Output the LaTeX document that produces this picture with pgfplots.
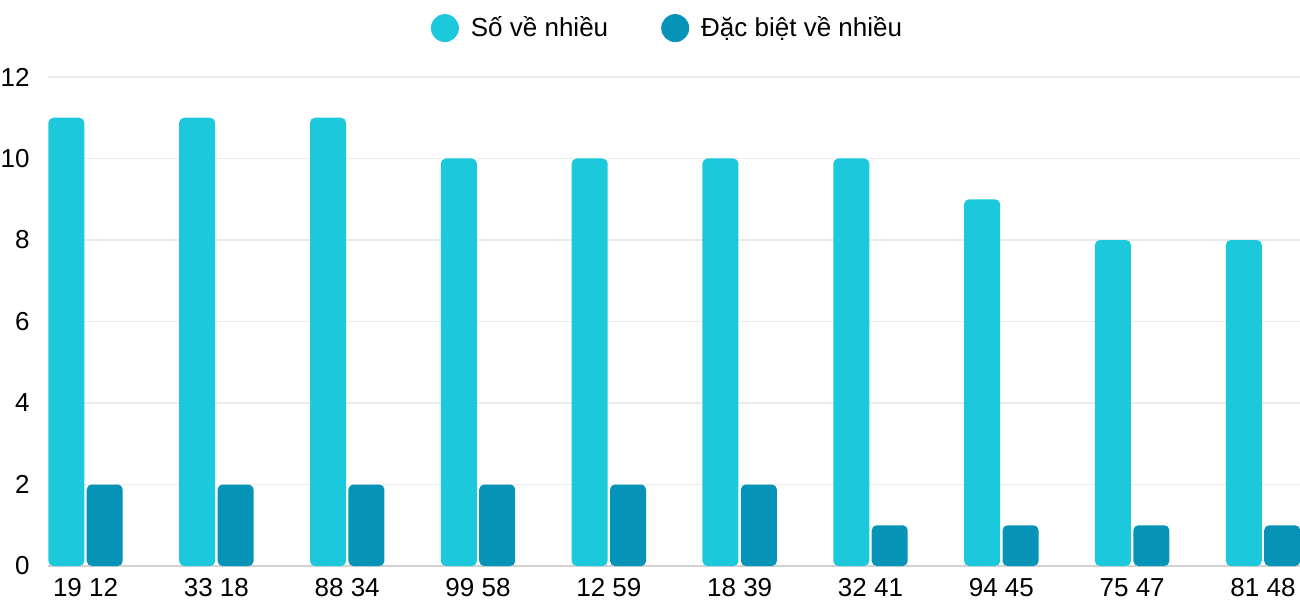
\documentclass[border=0pt]{standalone}
\usepackage{pgfplots}
\pgfplotsset{compat=1.18}
\usepackage{fontspec}
\setmainfont{Liberation Sans}
\definecolor{cLight}{RGB}{27,200,220}
\definecolor{cDark}{RGB}{5,147,183}
\definecolor{cGrid}{RGB}{235,235,235}
\definecolor{cAxis}{RGB}{210,210,210}
\begin{document}
\begin{tikzpicture}
\path[use as bounding box] (0,0) rectangle (650pt,300pt);
\begin{axis}[
  at={(24pt,17pt)}, anchor=south west,
  scale only axis, width=626pt, height=244.5pt,
  xmin=-0.287, xmax=9.283, ymin=0, ymax=12,
  ytick={0,2,...,12},
  xtick={0,...,9},
  xticklabels={19 12,33 18,88 34,99 58,12 59,18 39,32 41,94 45,75 47,81 48},
  axis x line*=bottom, axis y line*=left,
  y axis line style={draw=none},
  x axis line style={draw=cAxis, line width=0.6pt, -},
  major tick length=0pt,
  ymajorgrids, grid style={draw=cGrid, line width=0.6pt},
  /pgf/number format/assume math mode=true,
  ticklabel style={font=\fontsize{13}{15}\selectfont, inner sep=0pt},
  yticklabel style={anchor=east, xshift=-9pt},
  xticklabel style={anchor=north, yshift=-6pt},
  ybar, bar width=18pt,
  legend columns=2,
  legend style={draw=none, fill=none, at={(0.494,1.1)}, anchor=center,
    font=\fontsize{13}{15}\selectfont, inner sep=0pt,
    nodes={inner sep=0pt},
    /tikz/every odd column/.append style={column sep=6pt},
    /tikz/every even column/.append style={column sep=26.5pt}},
  legend cell align=left,
]
\addplot[draw=none, fill=cLight, bar shift=-9.6pt, rounded corners=2.5pt,
  legend image code/.code={\fill[cLight] (0pt,0pt) circle (7pt);}]
  coordinates {(0,11) (1,11) (2,11) (3,10) (4,10) (5,10) (6,10) (7,9) (8,8) (9,8)};
\addplot[draw=none, fill=cDark, bar shift=9.6pt, rounded corners=2.5pt,
  legend image code/.code={\fill[cDark] (0pt,0pt) circle (7pt);}]
  coordinates {(0,2) (1,2) (2,2) (3,2) (4,2) (5,2) (6,1) (7,1) (8,1) (9,1)};
\legend{Số về nhiều, Đặc biệt về nhiều}
\end{axis}
\end{tikzpicture}
\end{document}
